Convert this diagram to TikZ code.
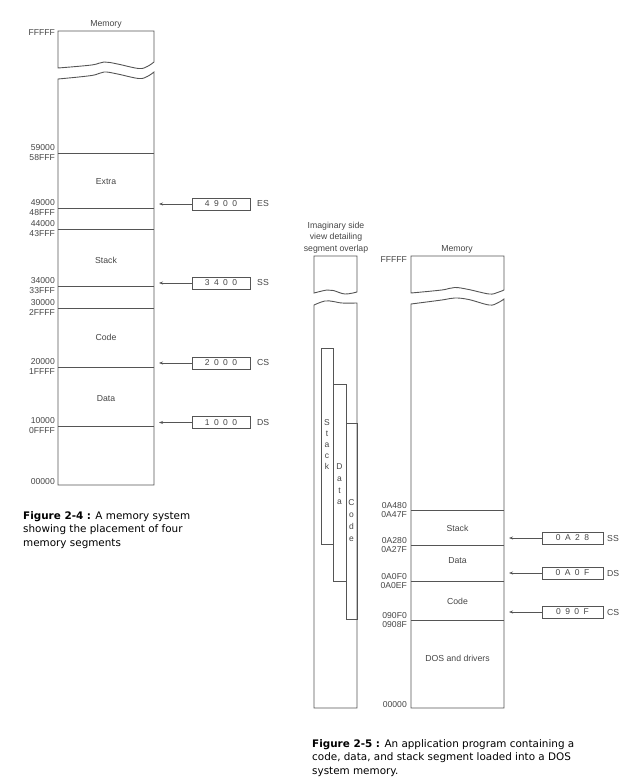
\documentclass[tikz,border=0pt]{standalone}
\usepackage{fontspec}
\setmainfont{Liberation Sans}
\newfontfamily\capfont{DejaVu Sans}
\usetikzlibrary{arrows.meta}
\definecolor{linec}{HTML}{555555}
\definecolor{txtc}{HTML}{454545}
\newcommand\piece[5]{%
  \begin{scope}[shift={(#1,#3)},xscale=#2]
    \draw[memline] plot[smooth,tension=0.6] coordinates {#5} -- (1,#4) -- (0,#4) -- cycle;
  \end{scope}}
\tikzset{
  memline/.style={draw=linec, line width=0.9pt},
  segline/.style={draw=linec, line width=0.9pt},
  addr/.style={anchor=east, inner sep=0pt, text=txtc, font=\fontsize{8.6}{9}\selectfont},
  seglbl/.style={inner sep=0pt, text=txtc, font=\fontsize{8.7}{10}\selectfont},
  regbox/.style={draw=linec, line width=0.9pt, minimum height=12pt, inner sep=0pt, text=txtc, font=\fontsize{8.5}{9}\selectfont},
  reglbl/.style={anchor=west, inner sep=0pt, text=txtc, font=\fontsize{8.7}{9}\selectfont},
  arr/.style={draw=linec, line width=0.8pt, -{Stealth[length=4pt,width=3pt]}},
  vlet/.style={inner sep=0pt, text=txtc, align=center},
  capbox/.style={anchor=north west, inner sep=0pt, align=left, font=\capfont\fontsize{10.4}{13.6}\selectfont}
}
\newcommand\rsp{\hspace{4.4pt}}
\begin{document}
\begin{tikzpicture}[x=1pt,y=-1pt]
\useasboundingbox (0,0) rectangle (640,784);
% ================= Figure 2-4 =================
\node[seglbl] (memL) at (106,24) {Memory};
\node[addr] (fL) at (55,33) {FFFFF};
\piece{58}{96}{68}{-37}{(0,0) (0.35,-3) (0.48,-6) (0.62,-4) (0.84,0.5) (0.93,-1.5) (1,-6)}
\piece{58}{96}{79}{406}{(0,0) (0.35,-3.5) (0.48,-7) (0.62,-5) (0.84,-0.5) (0.93,-2.5) (1,-7)}
\foreach \yy in {153,208,229,286,308,367,426} {\draw[segline] (58,\yy) -- (154,\yy);}
\node[addr] (a1) at (55,148) {59000};
\node[addr] (a2) at (55,157.5) {58FFF};
\node[addr] (a3) at (55,203) {49000};
\node[addr] (a4) at (55,212.5) {48FFF};
\node[addr] (a5) at (55,224) {44000};
\node[addr] (a6) at (55,233.5) {43FFF};
\node[addr] (a7) at (55,281) {34000};
\node[addr] (a8) at (55,290.5) {33FFF};
\node[addr] (a9) at (55,303) {30000};
\node[addr] (a10) at (55,312.5) {2FFFF};
\node[addr] (a11) at (55,362) {20000};
\node[addr] (a12) at (55,371.5) {1FFFF};
\node[addr] (a13) at (55,421) {10000};
\node[addr] (a14) at (55,430.5) {0FFFF};
\node[addr] (a15) at (55,482) {00000};
\node[seglbl] (sExtra) at (106,182) {Extra};
\node[seglbl] (sStackL) at (106,260) {Stack};
\node[seglbl] (sCodeL) at (106,337) {Code};
\node[seglbl] (sDataL) at (106,399) {Data};
% registers
\node[regbox, minimum width=58pt] (es) at (221,204) {4\rsp 9\rsp 0\rsp 0};
\node[regbox, minimum width=58pt] (ss) at (221,283) {3\rsp 4\rsp 0\rsp 0};
\node[regbox, minimum width=58pt] (cs) at (221,363) {2\rsp 0\rsp 0\rsp 0};
\node[regbox, minimum width=58pt] (ds) at (221,422.5) {1\rsp 0\rsp 0\rsp 0};
\node[reglbl] (esl) at (257,204) {ES};
\node[reglbl] (ssl) at (257,283) {SS};
\node[reglbl] (csl) at (257,363) {CS};
\node[reglbl] (dsl) at (257,422.5) {DS};
\coordinate (esT) at (159,204);
\coordinate (ssT) at (159,283);
\coordinate (csT) at (159,363);
\coordinate (dsT) at (159,422.5);
\draw[arr] (es.west) -- (esT);
\draw[arr] (ss.west) -- (ssT);
\draw[arr] (cs.west) -- (csT);
\draw[arr] (ds.west) -- (dsT);
\node[capbox] (cap1) at (23,511) {\textbf{Figure 2-4 :} A memory system\\showing the placement of four\\memory segments};
% ================= Figure 2-5 =================
\node[seglbl, align=center, font=\fontsize{8.7}{11.5}\selectfont] (side) at (336,237.5) {Imaginary side\\view detailing\\segment overlap};
\piece{314}{43}{293}{-37}{(0,0) (0.3,-3) (0.45,-2.5) (0.72,1) (1,-1)}
\piece{314}{43}{305}{403}{(0,0) (0.25,-4) (0.45,-3.5) (0.65,-2) (1,-2)}
\draw[memline] (321,544) rectangle (333,348);
\draw[memline] (333,581) rectangle (346,384);
\draw[memline] (346,619) rectangle (357,423);
\node[vlet, font=\fontsize{8.5}{11}\selectfont] (vStack) at (327,445) {S\\t\\a\\c\\k};
\node[vlet, font=\fontsize{8.5}{11.7}\selectfont] (vData) at (339.5,484.5) {D\\a\\t\\a};
\node[vlet, font=\fontsize{8.5}{12}\selectfont] (vCode) at (351.5,521) {C\\o\\d\\e};
\node[seglbl] (memR) at (457,249) {Memory};
\node[addr] (fR) at (407,260) {FFFFF};
\piece{411}{93}{293}{-37}{(0,0) (0.33,-3) (0.47,-5.5) (0.62,-3.5) (0.84,1) (0.93,-0.5) (1,-3)}
\piece{411}{93}{304}{404}{(0,0) (0.33,-4) (0.47,-6) (0.62,-4.5) (0.84,1) (0.93,-1) (1,-5)}
\foreach \yy in {510,545,581,620} {\draw[segline] (411,\yy) -- (504,\yy);}
\node[addr] (b1) at (407,505.5) {0A480};
\node[addr] (b2) at (407,515) {0A47F};
\node[addr] (b3) at (407,540.5) {0A280};
\node[addr] (b4) at (407,550) {0A27F};
\node[addr] (b5) at (407,576.5) {0A0F0};
\node[addr] (b6) at (407,586) {0A0EF};
\node[addr] (b7) at (407,615.5) {090F0};
\node[addr] (b8) at (407,625) {0908F};
\node[addr] (b9) at (407,705) {00000};
\node[seglbl] (sStackR) at (457.5,528) {Stack};
\node[seglbl] (sDataR) at (457.5,561) {Data};
\node[seglbl] (sCodeR) at (457.5,601) {Code};
\node[seglbl] (sDos) at (457.5,658) {DOS and drivers};
\node[regbox, minimum width=61pt] (ss2) at (572.5,538) {0\rsp A\rsp 2\rsp 8};
\node[regbox, minimum width=61pt] (ds2) at (572.5,573) {0\rsp A\rsp 0\rsp F};
\node[regbox, minimum width=61pt] (cs2) at (572.5,612) {0\rsp 9\rsp 0\rsp F};
\node[reglbl] (ss2l) at (607,538) {SS};
\node[reglbl] (ds2l) at (607,573) {DS};
\node[reglbl] (cs2l) at (607,612) {CS};
\coordinate (ss2T) at (509,538);
\coordinate (ds2T) at (509,573);
\coordinate (cs2T) at (509,612);
\draw[arr] (ss2.west) -- (ss2T);
\draw[arr] (ds2.west) -- (ds2T);
\draw[arr] (cs2.west) -- (cs2T);
\node[capbox] (cap2) at (312,739) {\textbf{Figure 2-5 :} An application program containing a\\code, data, and stack segment loaded into a DOS\\system memory.};
\end{tikzpicture}
\end{document}
